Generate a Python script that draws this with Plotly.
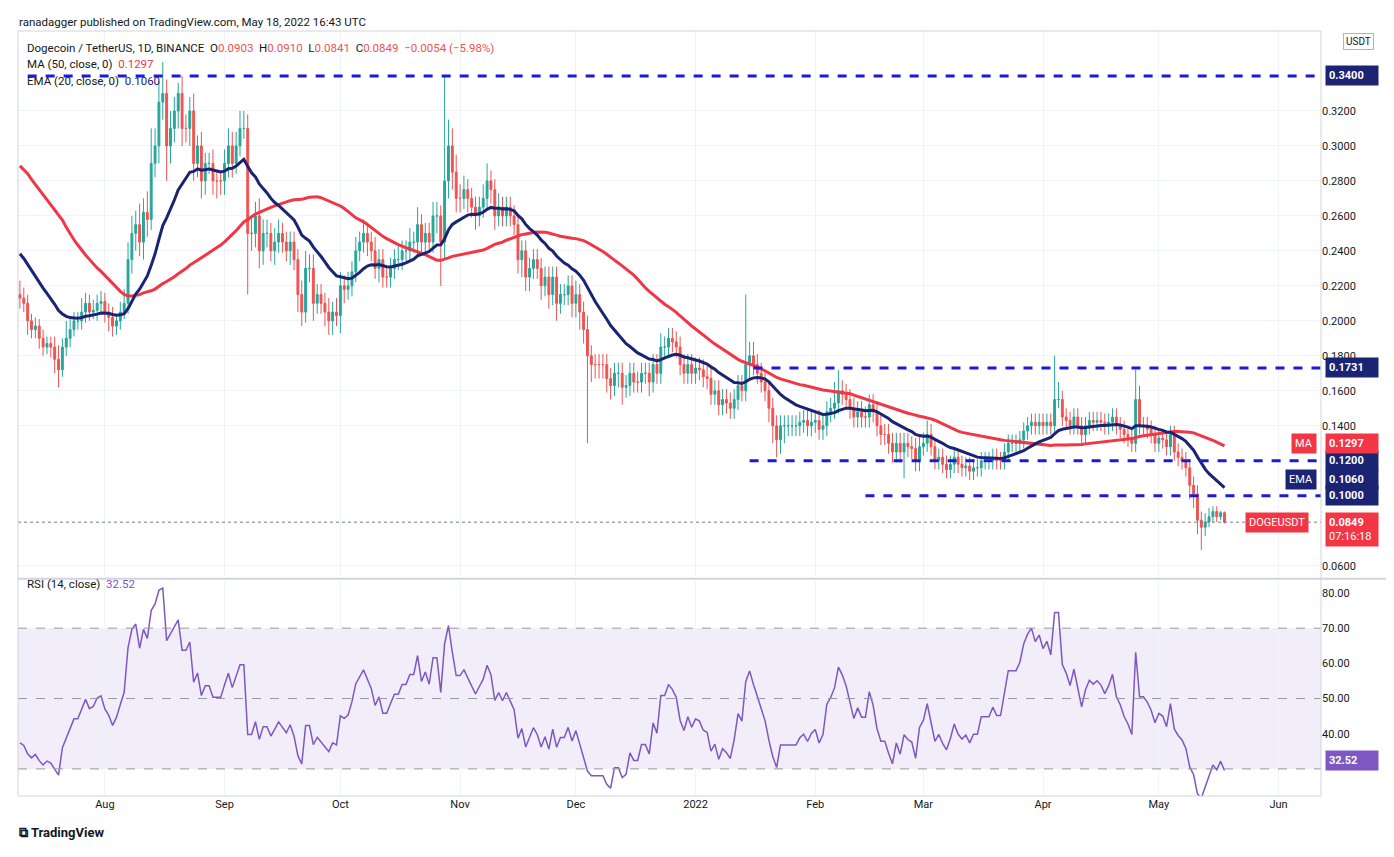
import numpy as np
import pandas as pd
import plotly.graph_objects as go

# ---------------- data ----------------
pre_closes = [0.34,0.33,0.30,0.36,0.34,0.35,0.34,0.32,0.31,0.32,0.31,0.35,0.40,0.38,0.37,0.35,0.36,0.34,0.33,0.34,
              0.32,0.31,0.32,0.33,0.32,0.30,0.31,0.30,0.28,0.25,0.24,0.22,0.21,0.23,0.26,0.25,0.24,0.26,0.24,0.25,
              0.24,0.25,0.24,0.23,0.22,0.23,0.22,0.21,0.22,0.215]

closes_jul = [0.213,0.210,0.200,0.195,0.197,0.190,0.185,0.187,0.185,0.178,0.172,0.185,0.190,0.195,0.200,0.200,0.205,0.210,0.205,0.206,0.210,0.211]
closes_aug = [0.205,0.202,0.197,0.200,0.205,0.210,0.235,0.250,0.255,0.245,0.262,0.258,0.290,0.300,0.325,0.330,0.300,0.310,0.320,0.330,0.310,0.310,0.320,0.290,0.300,0.280,0.290,0.290,0.280,0.280,0.280]
closes_sep = [0.290,0.300,0.290,0.300,0.310,0.310,0.250,0.250,0.260,0.240,0.250,0.250,0.240,0.245,0.250,0.245,0.240,0.245,0.235,0.215,0.205,0.230,0.230,0.210,0.215,0.210,0.205,0.200,0.205,0.203]
closes_oct = [0.220,0.218,0.220,0.228,0.240,0.245,0.250,0.245,0.240,0.230,0.235,0.225,0.225,0.230,0.235,0.235,0.240,0.240,0.245,0.245,0.255,0.245,0.250,0.245,0.260,0.260,0.245,0.280,0.300,0.285,0.270]
closes_nov = [0.270,0.275,0.270,0.265,0.260,0.265,0.270,0.280,0.275,0.260,0.265,0.260,0.265,0.260,0.255,0.235,0.240,0.225,0.230,0.235,0.230,0.220,0.225,0.215,0.225,0.210,0.215,0.215,0.220,0.210]
closes_dec = [0.215,0.205,0.195,0.180,0.175,0.175,0.175,0.175,0.167,0.163,0.170,0.170,0.162,0.163,0.170,0.165,0.165,0.170,0.170,0.165,0.175,0.170,0.185,0.185,0.190,0.188,0.185,0.175,0.170,0.175,0.170]
closes_jan = [0.173,0.172,0.168,0.167,0.158,0.160,0.152,0.155,0.153,0.150,0.155,0.163,0.160,0.175,0.180,0.175,0.170,0.165,0.160,0.150,0.140,0.132,0.140,0.140,0.140,0.140,0.140,0.142,0.143,0.140,0.142]
closes_feb = [0.143,0.138,0.140,0.148,0.150,0.153,0.160,0.158,0.155,0.150,0.145,0.148,0.145,0.145,0.152,0.148,0.140,0.135,0.135,0.130,0.125,0.130,0.125,0.130,0.128,0.127,0.120,0.128]
closes_mar = [0.130,0.135,0.128,0.120,0.122,0.118,0.115,0.118,0.122,0.118,0.116,0.117,0.114,0.116,0.116,0.120,0.120,0.120,0.122,0.120,0.120,0.125,0.130,0.130,0.130,0.132,0.137,0.140,0.142,0.140,0.142]
closes_apr = [0.140,0.142,0.140,0.155,0.155,0.145,0.143,0.140,0.145,0.140,0.135,0.140,0.143,0.142,0.143,0.142,0.140,0.142,0.145,0.140,0.138,0.135,0.133,0.130,0.155,0.140,0.140,0.138,0.135,0.130]
closes_may = [0.133,0.132,0.128,0.135,0.125,0.122,0.120,0.116,0.106,0.101,0.086,0.082,0.085,0.088,0.091,0.088,0.0903,0.0849]

# wick lengths (thousandths of USDT)
up_jul = [8,6,5,4,5,4,5,4,4,6,8,5,10,6,5,5,8,6,5,6,5,6]
dn_jul = [6,5,8,5,5,6,5,4,6,8,10,4,5,5,4,5,5,6,5,4,6,5]
up_aug = [5,5,6,4,6,8,10,10,8,12,8,12,20,10,12,18,8,10,8,6,10,8,8,10,6,8,6,6,8,6,6]
dn_aug = [6,8,6,5,5,4,6,8,10,8,10,10,6,8,10,10,20,10,8,10,10,8,10,10,8,10,8,6,8,10,8]
up_sep = [8,10,8,8,10,10,8,10,8,10,8,8,6,8,8,6,6,6,6,6,8,10,8,8,6,6,6,8,6,8]
dn_sep = [8,8,8,6,6,6,35,10,8,10,8,8,6,8,6,6,6,8,6,10,8,6,8,10,6,6,8,8,8,6]
up_oct = [8,6,8,6,8,6,8,6,6,8,6,6,6,6,6,8,6,6,8,6,10,6,6,6,8,8,6,60,15,10,10]
dn_oct = [10,8,6,6,6,6,6,8,6,6,8,6,6,6,6,6,6,6,6,6,8,8,6,6,6,10,25,10,10,10,8]
up_nov = [8,8,6,6,6,6,8,10,6,6,8,6,6,6,6,6,6,6,6,6,6,6,6,6,6,6,6,6,6,6]
dn_nov = [8,6,8,6,8,6,6,6,8,8,6,6,6,6,6,8,10,8,8,6,6,8,6,8,6,10,6,6,6,8]
up_dec = [8,6,6,8,6,6,6,6,6,6,6,6,6,6,6,6,6,6,6,6,6,6,8,6,6,6,6,6,6,6,6]
dn_dec = [8,10,8,50,10,8,8,8,8,8,6,8,10,6,6,6,6,6,6,8,6,6,6,6,6,6,6,6,6,6,6]
up_jan = [6,6,6,6,6,6,6,6,6,6,6,6,6,40,8,8,6,6,6,6,6,6,6,6,6,6,6,6,6,6,6]
dn_jan = [6,6,6,6,6,6,6,6,6,6,6,6,6,6,8,6,6,6,6,8,10,10,8,10,6,6,6,6,6,6,6]
up_feb = [6,6,6,6,6,12,12,6,6,6,6,6,6,6,6,6,6,6,6,6,6,6,6,6,6,6,6,6]
dn_feb = [6,6,6,6,6,6,6,6,6,6,6,6,6,6,6,6,6,6,6,6,6,6,6,15,6,6,6,6]
up_mar = [6,8,6,5,5,5,5,5,5,5,5,5,5,5,5,5,5,5,5,5,5,5,5,5,5,5,5,5,5,5,5]
dn_mar = [5,5,5,5,5,5,5,5,5,5,5,5,5,5,5,5,5,5,5,5,5,5,5,5,5,5,5,5,5,5,5]
up_apr = [5,5,5,25,10,5,5,5,5,5,5,5,5,5,5,5,5,5,5,5,5,5,5,5,17,8,5,5,5,5]
dn_apr = [5,5,5,5,5,5,5,5,5,5,5,5,5,5,5,5,5,5,5,5,5,5,5,5,5,5,5,5,5,5]
up_may = [5,5,5,5,5,5,5,5,5,5,5,5,5,5,3,3,1,0.7]
dn_may = [5,5,5,5,5,5,5,5,8,8,8,13,5,3,3,3,2,0.8]

levels = [0.34, 0.1731, 0.12, 0.10]
level_starts = ["2021-07-12", "2022-01-16", "2022-01-15", "2022-02-14"]
price_ticks = [0.06, 0.14, 0.16, 0.18, 0.20, 0.22, 0.24, 0.26, 0.28, 0.30, 0.32]
rsi_ticks = [40, 50, 60, 70, 80]
month_ticks = ["2021-08-01","2021-09-01","2021-10-01","2021-11-01","2021-12-01","2022-01-01",
               "2022-02-01","2022-03-01","2022-04-01","2022-05-01","2022-06-01"]
month_labels = ["Aug","Sep","Oct","Nov","Dec","2022","Feb","Mar","Apr","May","Jun"]

# ---------------- build ----------------
closes = sum([closes_jul,closes_aug,closes_sep,closes_oct,closes_nov,closes_dec,closes_jan,
              closes_feb,closes_mar,closes_apr,closes_may], [])
ups = sum([up_jul,up_aug,up_sep,up_oct,up_nov,up_dec,up_jan,up_feb,up_mar,up_apr,up_may], [])
dns = sum([dn_jul,dn_aug,dn_sep,dn_oct,dn_nov,dn_dec,dn_jan,dn_feb,dn_mar,dn_apr,dn_may], [])
n = min(len(closes), len(ups), len(dns))
closes, ups, dns = closes[:n], ups[:n], dns[:n]
dates = pd.date_range("2021-07-10", periods=n, freq="D")
opens = [pre_closes[-1]] + closes[:-1]
highs = [max(o, c) + u / 1000 for o, c, u in zip(opens, closes, ups)]
lows = [min(o, c) - d / 1000 for o, c, d in zip(opens, closes, dns)]

allc = pd.Series(pre_closes + closes)
ma50 = allc.rolling(50).mean().values[len(pre_closes):]
ema20 = allc.ewm(span=20, adjust=False).mean().values[len(pre_closes):]
diff = allc.diff()
gain = diff.clip(lower=0).ewm(alpha=1/14, adjust=False).mean()
loss = (-diff.clip(upper=0)).ewm(alpha=1/14, adjust=False).mean()
rsi = (100 - 100 / (1 + gain / loss)).values[len(pre_closes):]

GREEN, RED = "#26a69a", "#ef5350"
NAVY, MARED, PURP = "#1b2473", "#f23645", "#7e57c2"
LVL = "#1a1adb"

fig = go.Figure()
fig.add_trace(go.Scatter(x=dates, y=ma50, mode="lines", line=dict(color=MARED, width=3), yaxis="y"))
fig.add_trace(go.Scatter(x=dates, y=ema20, mode="lines", line=dict(color=NAVY, width=3), yaxis="y"))
fig.add_trace(go.Candlestick(x=dates, open=opens, high=highs, low=lows, close=closes,
                             increasing=dict(line=dict(color=GREEN, width=1), fillcolor=GREEN),
                             decreasing=dict(line=dict(color=RED, width=1), fillcolor=RED),
                             whiskerwidth=0, yaxis="y"))
fig.add_trace(go.Scatter(x=dates, y=rsi, mode="lines", line=dict(color=PURP, width=1.5), yaxis="y2"))

xr = ["2021-07-09 12:00", "2022-06-12"]
shapes = []
for lv, st in zip(levels, level_starts):
    shapes.append(dict(type="line", xref="x", yref="y", x0=st, x1=xr[1], y0=lv, y1=lv,
                       line=dict(color=LVL, width=3, dash="dash")))
shapes.append(dict(type="line", xref="x", yref="y", x0=xr[0], x1=xr[1], y0=closes[-1], y1=closes[-1],
                   line=dict(color="#787b86", width=1, dash="dot")))
shapes.append(dict(type="rect", xref="x", yref="y2", x0=xr[0], x1=xr[1], y0=30, y1=70,
                   fillcolor="rgba(126,87,194,0.1)", line=dict(width=0), layer="below"))
for v in (70, 50, 30):
    shapes.append(dict(type="line", xref="x", yref="y2", x0=xr[0], x1=xr[1], y0=v, y1=v,
                       line=dict(color="#9598a1", width=1, dash="dash")))
shapes.append(dict(type="rect", xref="paper", yref="paper", x0=0, x1=1, y0=0, y1=1,
                   line=dict(color="#d1d4dc", width=1)))
shapes.append(dict(type="line", xref="paper", yref="paper", x0=0, x1=1.058, y0=0.284, y1=0.284,
                   line=dict(color="#d1d4dc", width=2)))

ann = []
def box(y, text, bg, yref="y", fc="white", xs=4, ys=0):
    ann.append(dict(x=1, xref="paper", xanchor="left", xshift=xs, y=y, yref=yref, yshift=ys, text=text,
                    showarrow=False, bgcolor=bg, font=dict(color=fc, size=11, family="Roboto"),
                    borderpad=3, width=46, align="left"))
box(0.34, "<b>0.3400</b>", NAVY)
box(0.1731, "<b>0.1731</b>", NAVY)
box(0.12, "<b>0.1200</b>", NAVY)
box(0.10, "<b>0.1000</b>", NAVY)
box(0.1297, "<b>0.1297</b>", MARED)
box(0.106, "<b>0.1060</b>", NAVY, ys=6)
box(closes[-1], "<b>0.0849</b><br>07:16:18", MARED, ys=-7)
box(32.52, "<b>32.52</b>", PURP, yref="y2")
def tag(y, text, bg, yref="y", w=-4, ys=0):
    ann.append(dict(x=1, xref="paper", xanchor="right", xshift=w, y=y, yref=yref, yshift=ys, text=text,
                    showarrow=False, bgcolor=bg, font=dict(color="white", size=11, family="Roboto"),
                    borderpad=3))
tag(0.1297, "MA", MARED)
tag(0.106, "EMA", NAVY, ys=6)
tag(closes[-1], "DOGEUSDT", MARED, w=-12)
tag(32.52, "RSI", PURP)

txt = dict(xref="paper", yref="paper", showarrow=False, xanchor="left", font=dict(size=11.5, color="#131722", family="Roboto"))
ann.append(dict(txt, x=0.0, xshift=-1, y=1.024, text="ranadagger published on TradingView.com, May 18, 2022 16:43 UTC"))
ann.append(dict(txt, x=0.005, y=0.99, text="Dogecoin / TetherUS, 1D, BINANCE  O<span style='color:#ef5350'>0.0903</span>  H<span style='color:#ef5350'>0.0910</span>  L<span style='color:#ef5350'>0.0841</span>  C<span style='color:#ef5350'>0.0849  −0.0054 (−5.98%)</span>"))
ann.append(dict(txt, x=0.005, y=0.968, text="MA (50, close, 0)  <span style='color:#f23645'>0.1297</span>"))
ann.append(dict(txt, x=0.005, y=0.946, text="EMA (20, close, 0)  <span style='color:#1b2473'>0.1060</span>"))
ann.append(dict(txt, x=0.005, y=0.265, text="RSI (14, close)  <span style='color:#7e57c2'>32.52</span>"))
ann.append(dict(txt, x=0.0, xshift=-1, y=-0.06, text="<b>⧉ TradingView</b>", font=dict(size=13, color="#131722", family="Roboto")))
ann.append(dict(x=1, xref="paper", xanchor="left", xshift=22, y=0.997, yref="paper", text="USDT",
                showarrow=False, bordercolor="#b2b5be", borderwidth=1, bgcolor="white",
                font=dict(size=10, color="#131722"), borderpad=2))

fig.update_layout(
    width=1394, height=857, paper_bgcolor="white", plot_bgcolor="white",
    margin=dict(l=10, r=81, t=23, b=69), showlegend=False,
    font=dict(family="Roboto", size=11, color="#131722"),
    xaxis=dict(type="date", range=xr, rangeslider=dict(visible=False), tickvals=month_ticks,
               ticktext=month_labels, showgrid=True, gridcolor="#f0f3fa", ticks="", anchor="y2",
               showline=False, zeroline=False),
    yaxis=dict(domain=[0.288, 1], range=[0.0543, 0.3657], side="right", tickformat=".4f",
               tickvals=price_ticks, showgrid=True, gridcolor="#f0f3fa", zeroline=False, ticks=""),
    yaxis2=dict(domain=[0, 0.281], range=[22.3, 83.4], side="right", tickvals=rsi_ticks,
                ticktext=["%.2f" % v for v in rsi_ticks], showgrid=False,
                zeroline=False, ticks=""),
    shapes=shapes, annotations=ann,
)
fig.write_html("out.html")
